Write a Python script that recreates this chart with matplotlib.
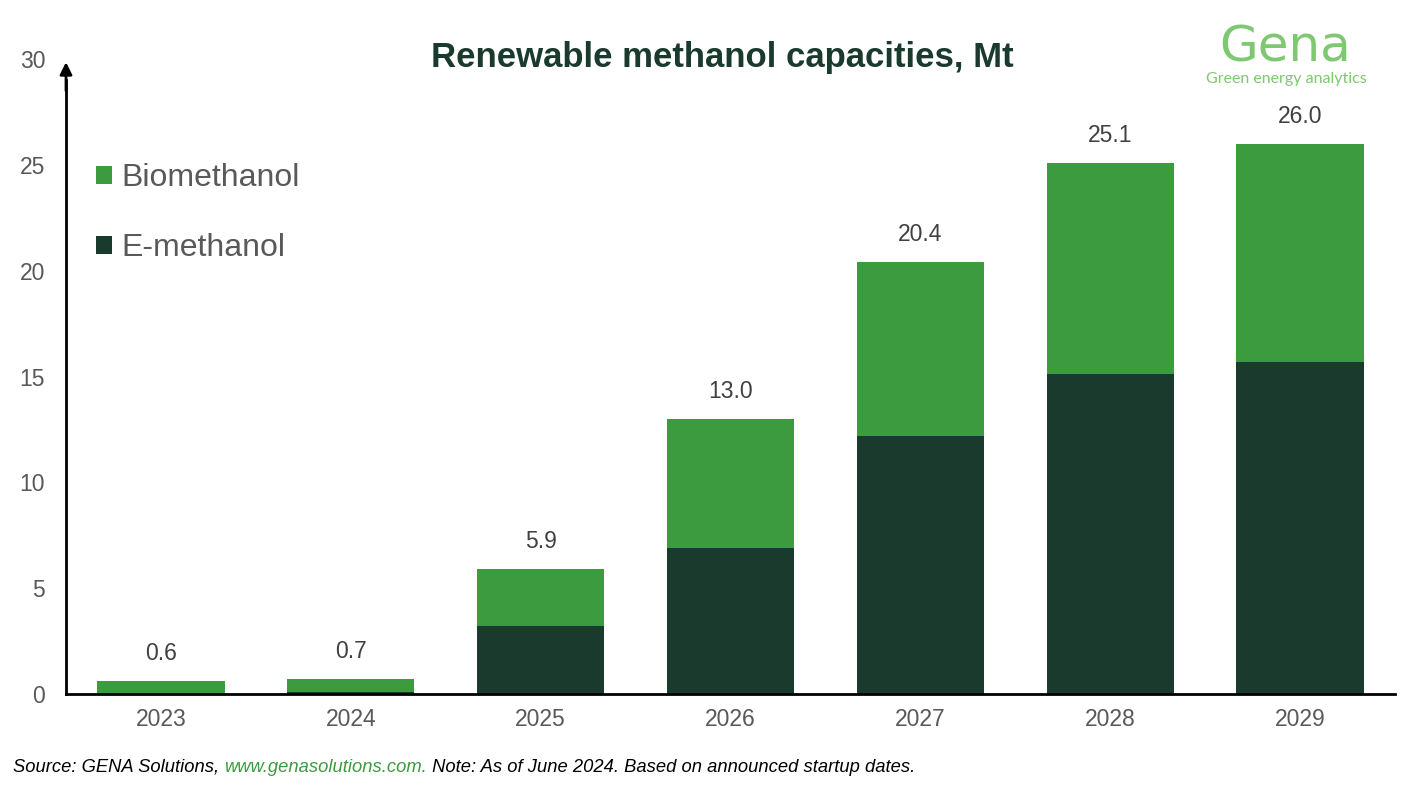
import matplotlib
matplotlib.use("Agg")
import matplotlib.pyplot as plt
import numpy as np

years = ["2023", "2024", "2025", "2026", "2027", "2028", "2029"]
totals = [0.6, 0.7, 5.9, 13.0, 20.4, 25.1, 26.0]
e_methanol = [0.0, 0.1, 3.2, 6.9, 12.2, 15.1, 15.7]
biomethanol = [round(t - e, 2) for t, e in zip(totals, e_methanol)]
yticks = [0, 5, 10, 15, 20, 25, 30]

DARK = "#1A3A2E"
GREEN = "#3C9B3F"
GREY = "#595959"
LOGO = "#7DC870"

plt.rcParams['font.family'] = ['Liberation Sans', 'DejaVu Sans']

fig = plt.figure(figsize=(14.06, 7.87), dpi=100)
ax = fig.add_axes([66/1406, 1-694/787, (1395-66)/1406, (694-59)/787])

x = np.arange(len(years))
w = 0.67
ax.bar(x, e_methanol, width=w, color=DARK, label="E-methanol")
ax.bar(x, biomethanol, width=w, bottom=e_methanol, color=GREEN, label="Biomethanol")

for xi, t in zip(x, totals):
    ax.annotate(f"{t:.1f}", (xi, t), xytext=(0, 11.5), textcoords="offset points",
                ha="center", va="bottom", fontsize=16.5, color="#404040")

ax.set_xlim(-0.5, len(years) - 0.5)
ax.set_ylim(0, 30)
ax.set_xticks(x)
ax.set_xticklabels(years, fontsize=16.5, color=GREY)
ax.set_yticks(yticks)
ax.set_yticklabels([str(v) for v in yticks], fontsize=16.5, color=GREY)
ax.tick_params(axis="both", length=0)
ax.tick_params(axis="x", pad=10)
ax.tick_params(axis="y", pad=15)
for s in ["top", "right"]:
    ax.spines[s].set_visible(False)
ax.spines["left"].set_linewidth(2)
ax.spines["bottom"].set_linewidth(2)
ax.spines["left"].set_bounds(0, 29.0)
ax.annotate("", xy=(0, 29.85), xycoords=("axes fraction", "data"),
            xytext=(0, 28.5), textcoords=("axes fraction", "data"),
            arrowprops=dict(arrowstyle="-|>", color="black", lw=2, mutation_scale=18,
                            shrinkA=0, shrinkB=0), annotation_clip=False)

# Legend
handles, labels = ax.get_legend_handles_labels()
leg = ax.legend(handles[::-1], labels[::-1], loc="upper left",
                bbox_to_anchor=(0.001, 0.881), frameon=False, fontsize=23,
                labelcolor=GREY, handlelength=0.5, handleheight=0.5,
                handletextpad=0.3, labelspacing=1.25)

# Title
fig.text(722/1406, 1-57/787, "Renewable methanol capacities, Mt", ha="center", va="center",
         fontsize=25, fontweight="bold", color=DARK)

# Logo
fig.text(1285/1406, 1-47/787, "Gena", ha="center", va="center", fontsize=36,
         color=LOGO, family=["DejaVu Sans"], fontweight="normal")
fig.text(1286/1406, 1-79/787, "Green energy analytics", ha="center", va="center",
         fontsize=11.5, color=LOGO, family=["Lato", "DejaVu Sans"])

# Source line
fig.canvas.draw()
renderer = fig.canvas.get_renderer()
parts = [("Source: GENA Solutions, ", "black"),
         ("www.genasolutions.com.", GREEN),
         (" Note: As of June 2024. Based on announced startup dates.", "black")]
xpos = 13
for txt, col in parts:
    t = fig.text(xpos/1406, 1-767/787, txt, ha="left", va="center", fontsize=13.2,
                 style="italic", color=col)
    bb = t.get_window_extent(renderer)
    xpos = bb.x1

fig.savefig("out.png", dpi=100)
